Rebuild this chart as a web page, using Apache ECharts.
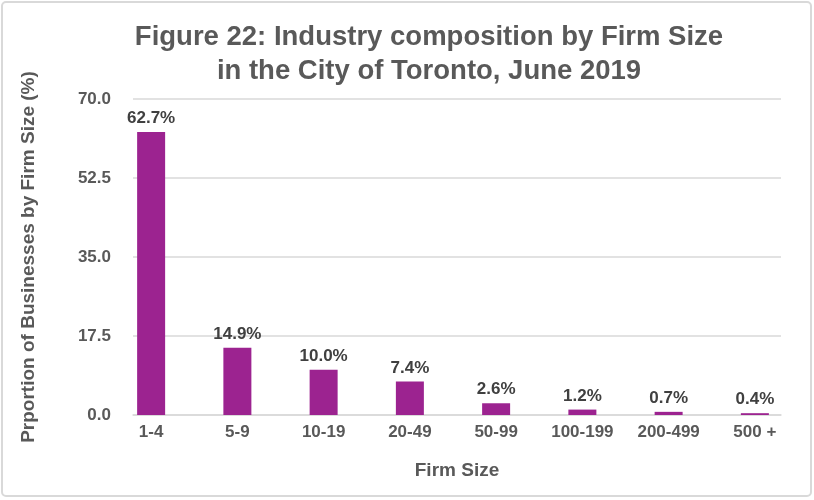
<!DOCTYPE html>
<html>
<head>
<meta charset="utf-8">
<script src="https://cdn.jsdelivr.net/npm/echarts@6/dist/echarts.min.js"></script>
<style>
  html, body { margin: 0; padding: 0; background: #fff; }
  #chart { width: 814px; height: 500px; }
</style>
</head>
<body>
<div id="chart"></div>
<script>
// Firm size categories and share of businesses (%)
var firmSizes = ['1-4', '5-9', '10-19', '20-49', '50-99', '100-199', '200-499', '500 +'];
var shares = [62.7, 14.9, 10.0, 7.4, 2.6, 1.2, 0.7, 0.4];

var titleLines = ['Figure 22: Industry composition by Firm Size', 'in the City of Toronto, June 2019'];
var yName = 'Prportion of Businesses by Firm Size (%)';
var xName = 'Firm Size';

var textGrey = '#595959';
var labelGrey = '#404040';
var gridGrey = '#D9D9D9';
var barPurple = '#9C2390';
var font = '"Liberation Sans", Arial, Helvetica, sans-serif';

var chart = echarts.init(document.getElementById('chart'));

chart.setOption({
    backgroundColor: '#fff',
    animation: false,
    textStyle: { fontFamily: font },
    title: {
        text: titleLines.join('\n'),
        left: 424,
        textAlign: 'center',
        top: 16,
        textStyle: {
            fontFamily: font,
            fontSize: 27.5,
            fontWeight: 'bold',
            color: textGrey,
            lineHeight: 33.5
        }
    },
    graphic: [
        {
            // Outer chart frame
            type: 'rect',
            shape: { x: 2, y: 2, width: 809, height: 494, r: 4 },
            style: { fill: 'none', stroke: gridGrey, lineWidth: 2 },
            silent: true
        }
    ],
    grid: [
        // Bars
        { left: 108, right: 16, top: 99, bottom: 85 },
        // Plot frame: gridlines, axis line, axis names
        { left: 133, right: 33, top: 99, bottom: 85 }
    ],
    xAxis: [
        {
            type: 'category',
            gridIndex: 0,
            data: firmSizes,
            axisLine: { show: false },
            axisTick: { show: false },
            axisLabel: {
                margin: 9,
                fontFamily: font,
                fontSize: 17,
                fontWeight: 'bold',
                color: textGrey
            }
        },
        {
            type: 'category',
            gridIndex: 1,
            data: firmSizes,
            axisLine: { show: true, lineStyle: { color: gridGrey, width: 1.5 } },
            axisTick: { show: false },
            axisLabel: { show: false },
            name: xName,
            nameLocation: 'middle',
            nameGap: 46,
            nameTextStyle: {
                fontFamily: font,
                fontSize: 19,
                fontWeight: 'bold',
                color: textGrey
            }
        }
    ],
    yAxis: [
        {
            type: 'value',
            gridIndex: 0,
            min: 0,
            max: 70,
            interval: 17.5,
            show: false
        },
        {
            type: 'value',
            gridIndex: 1,
            min: 0,
            max: 70,
            interval: 17.5,
            axisLine: { show: false },
            axisTick: { show: false },
            splitLine: { lineStyle: { color: gridGrey, width: 1.5 } },
            axisLabel: {
                margin: 22,
                fontFamily: font,
                fontSize: 17,
                fontWeight: 'bold',
                color: textGrey,
                formatter: function (v) { return v.toFixed(1); }
            },
            name: yName,
            nameLocation: 'middle',
            nameGap: 95,
            nameTextStyle: {
                fontFamily: font,
                fontSize: 19,
                fontWeight: 'bold',
                color: textGrey
            }
        }
    ],
    series: [
        {
            type: 'bar',
            xAxisIndex: 0,
            yAxisIndex: 0,
            data: shares,
            barWidth: 28,
            itemStyle: { color: barPurple },
            label: {
                show: true,
                position: 'top',
                distance: 5,
                fontFamily: font,
                fontSize: 17,
                fontWeight: 'bold',
                color: labelGrey,
                formatter: function (p) { return p.value.toFixed(1) + '%'; }
            },
            z: 3
        }
    ]
});
</script>
</body>
</html>
